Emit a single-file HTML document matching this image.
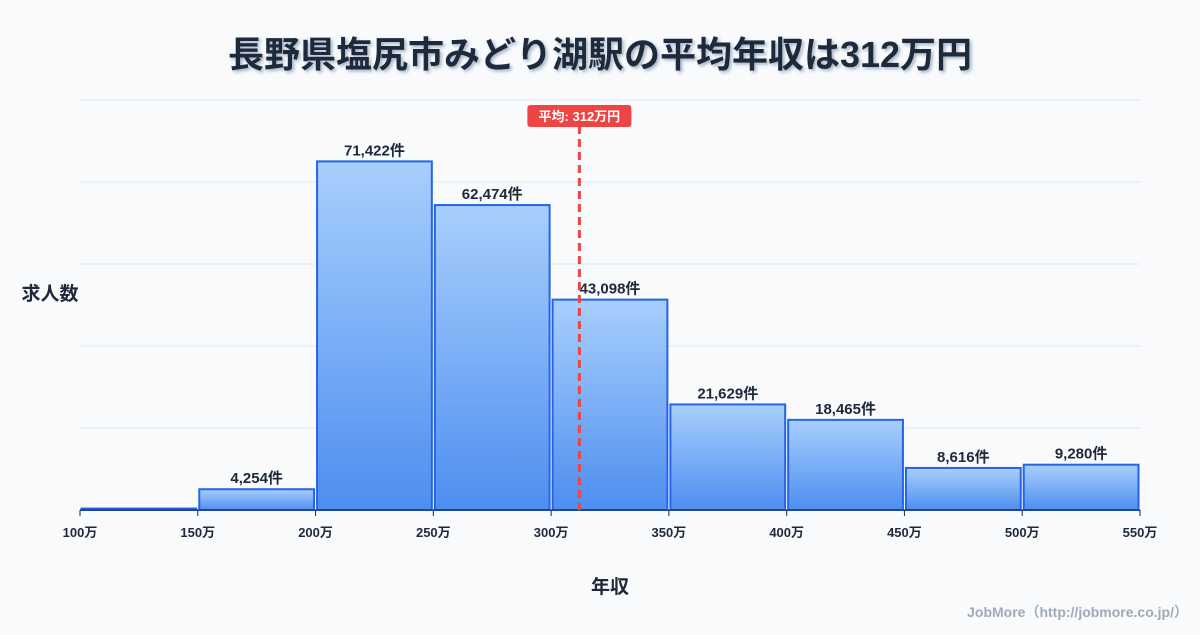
<!DOCTYPE html>
<html><head><meta charset="utf-8"><style>
body{margin:0;background:#f8fafc;}
svg text{font-family:"Liberation Sans","Noto Sans CJK JP",sans-serif;}
</style></head><body>
<svg width="1200" height="630" viewBox="0 0 1200 630" xmlns="http://www.w3.org/2000/svg">
<defs>
<linearGradient id="bg" x1="0" y1="0" x2="0" y2="1"><stop offset="0" stop-color="#a8cffc"/><stop offset="1" stop-color="#4e8ef0"/></linearGradient>
<filter id="sh"><feDropShadow dx="2" dy="2" stdDeviation="1.5" flood-color="#94a3b8" flood-opacity="0.8"/></filter>
</defs>
<rect width="1200" height="630" fill="#f8fafc"/>
<text x="600" y="67" text-anchor="middle" font-size="36" font-weight="bold" fill="#1e293b" filter="url(#sh)">長野県塩尻市みどり湖駅の平均年収は312万円</text>
<g id="grid"></g><g id="bars"></g><g id="xt"></g>
<text x="50" y="300" text-anchor="middle" font-size="19" font-weight="bold" fill="#1e293b">求人数</text>
<text x="610" y="593" text-anchor="middle" font-size="19" font-weight="bold" fill="#1e293b">年収</text>
<text x="1188" y="617" text-anchor="end" font-size="14" font-weight="bold" fill="#a0aab8">JobMore（http://jobmore.co.jp/）</text>
<g id="mean"></g>
</svg>
<script>
const binEdges=[100,150,200,250,300,350,400,450,500,550];
const counts=[300,4254,71422,62474,43098,21629,18465,8616,9280];
const countLabels=["","4,254件","71,422件","62,474件","43,098件","21,629件","18,465件","8,616件","9,280件"];
const meanValue=312;
const meanLabel="平均: 312万円";
const yMax=84000;
const NS="http://www.w3.org/2000/svg";
const x=v=>80+(v-100)/450*1060;
const y=v=>510-v/yMax*410;
function mk(t,a,p){const e=document.createElementNS(NS,t);for(const k in a)e.setAttribute(k,a[k]);p.appendChild(e);return e;}
const g=document.getElementById('grid');
for(let i=0;i<=5;i++){const l=mk('line',{x1:80,x2:1140,y1:y(yMax*i/5),y2:y(yMax*i/5),stroke:'#e2e8f0','stroke-width':1},g);

}
const b=document.getElementById('bars');
counts.forEach((c,i)=>{const x0=x(binEdges[i])+1.5,x1=x(binEdges[i+1])-1.5;
const r=mk('rect',{x:x0,y:y(c),width:x1-x0,height:510-y(c),fill:'url(#bg)',stroke:'#2563eb','stroke-width':2},b);


if(countLabels[i]){const t=mk('text',{x:(x0+x1)/2,y:y(c)-6,'text-anchor':'middle','font-size':15,'font-weight':'bold',fill:'#1e293b'},b);t.textContent=countLabels[i];

}});
const xt=document.getElementById('xt');
const ax=mk('line',{x1:80,x2:1140,y1:510,y2:510,stroke:'#1e293b','stroke-width':1},xt);


binEdges.forEach(v=>{const tk=mk('line',{x1:x(v),x2:x(v),y1:510,y2:516,stroke:'#1e293b'},xt);


const t=mk('text',{x:x(v),y:537,'text-anchor':'middle','font-size':13,'font-weight':'bold',fill:'#1e293b'},xt);t.textContent=v+'万';

});
const m=document.getElementById('mean');const mx=x(meanValue);
const ml=mk('line',{x1:mx,x2:mx,y1:126,y2:510,stroke:'#ef4444','stroke-width':3,'stroke-dasharray':'8,5'},m);


const mr=mk('rect',{x:mx-52,y:105,width:104,height:22,rx:3,fill:'#ef4444'},m);


const mt=mk('text',{x:mx,y:121,'text-anchor':'middle','font-size':13,'font-weight':'bold',fill:'#fff'},m);mt.textContent=meanLabel;


</script>
</body></html>
